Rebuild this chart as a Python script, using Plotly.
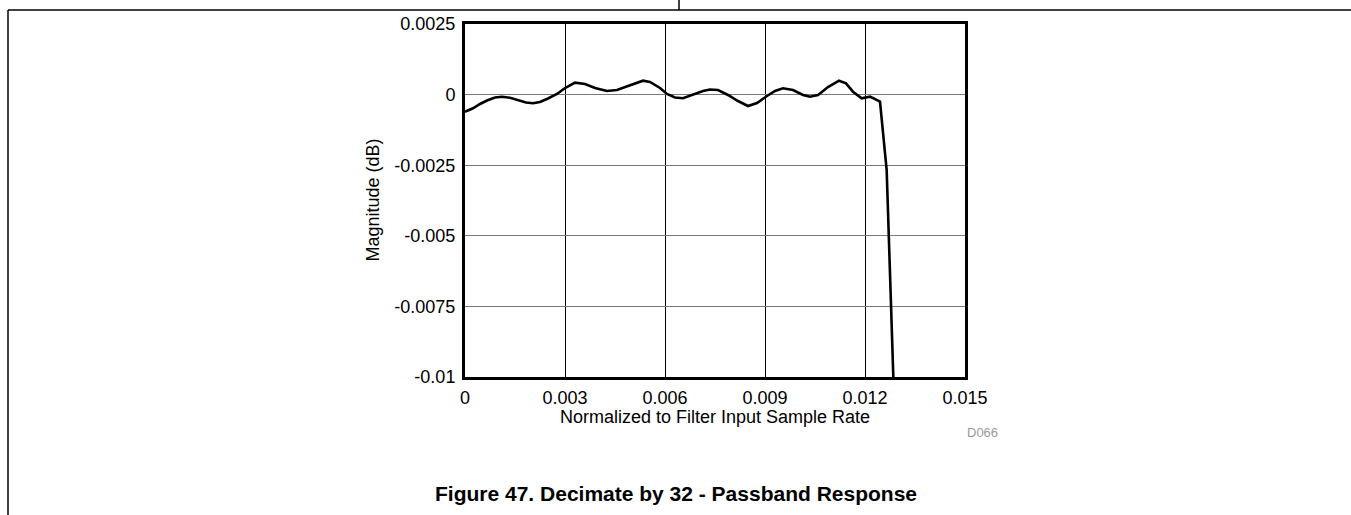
import plotly.graph_objects as go

# Data
freq = [0, 0.00024, 0.00045, 0.00066, 0.0009, 0.00111, 0.00135, 0.00159, 0.00183, 0.00204,
        0.00225, 0.00249, 0.00276, 0.003, 0.0033, 0.0036, 0.0039, 0.00426, 0.00456, 0.00489,
        0.00534, 0.00555, 0.00585, 0.00606, 0.0063, 0.00654, 0.00684, 0.00714, 0.00735, 0.00759,
        0.00789, 0.00819, 0.00849, 0.00876, 0.00906, 0.0093, 0.00954, 0.00984, 0.01014, 0.01035,
        0.01059, 0.01089, 0.01122, 0.01143, 0.01164, 0.0119, 0.01215, 0.01245, 0.01265, 0.01285]
magnitude_db = [-0.000606, -0.000485, -0.000333, -0.000209, -0.000103, -0.000078, -0.000113, -0.000191,
                -0.00028, -0.000308, -0.000262, -0.000138, 0.000021, 0.000234, 0.000421, 0.000375,
                0.000234, 0.000127, 0.000163, 0.000305, 0.000492, 0.000446, 0.000234, 0.000021,
                -0.000103, -0.000131, -0.000014, 0.000127, 0.000181, 0.000163, -0.000014, -0.000227,
                -0.000404, -0.000297, -0.00005, 0.000127, 0.000223, 0.000163, -0.000014, -0.000074,
                -0.000014, 0.000269, 0.000492, 0.0004, 0.000103, -0.000131, -0.000074, -0.000251,
                -0.00267, -0.01]

x_ticks = [0, 0.003, 0.006, 0.009, 0.012, 0.015]
x_tick_labels = ["0", "0.003", "0.006", "0.009", "0.012", "0.015"]
y_ticks = [-0.01, -0.0075, -0.005, -0.0025, 0, 0.0025]
y_tick_labels = ["-0.01", "-0.0075", "-0.005", "-0.0025", "0", "0.0025"]

x_title = "Normalized to Filter Input Sample Rate"
y_title = "Magnitude (dB)"
caption = "Figure 47. Decimate by 32 - Passband Response"
code_label = "D066"

FONT = "Arial, 'Liberation Sans', sans-serif"

fig = go.Figure()
fig.add_trace(go.Scatter(x=freq, y=magnitude_db, mode="lines",
                         line=dict(color="black", width=2.6), showlegend=False,
                         hoverinfo="skip"))

fig.update_layout(
    width=1351, height=515,
    margin=dict(l=465, r=386, t=24, b=138, pad=0),
    paper_bgcolor="white", plot_bgcolor="white",
    font=dict(family=FONT, size=18, color="black"),
    showlegend=False,
)
fig.update_xaxes(range=[0, 0.015], tickvals=x_ticks, ticktext=x_tick_labels,
                 showgrid=True, gridcolor="black", gridwidth=1, zeroline=False,
                 showline=True, linecolor="black", linewidth=3, mirror=True,
                 ticks="", ticklabelstandoff=2, tickfont=dict(size=18, family=FONT))
fig.update_yaxes(range=[-0.01, 0.0025], tickvals=y_ticks, ticktext=y_tick_labels,
                 showgrid=True, gridcolor="#7a7a7a", gridwidth=1, zeroline=False,
                 showline=True, linecolor="black", linewidth=3, mirror=True,
                 ticks="", ticklabelstandoff=3, tickfont=dict(size=18, family=FONT))

# page frame lines
fig.add_shape(type="line", xref="paper", yref="paper", x0=-0.914, x1=1.78, y0=1.0397, y1=1.0397,
              line=dict(color="black", width=1.5))
fig.add_shape(type="line", xref="paper", yref="paper", x0=0.428, x1=0.428, y0=1.0397, y1=1.1,
              line=dict(color="black", width=1.5))
fig.add_shape(type="line", xref="paper", yref="paper", x0=-0.914, x1=-0.914, y0=1.0397, y1=-0.45,
              line=dict(color="black", width=1.5))

fig.add_annotation(text=x_title, xref="paper", yref="paper", x=0.5, y=-0.113,
                   xanchor="center", yanchor="middle", showarrow=False,
                   font=dict(size=18, family=FONT))
fig.add_annotation(text=y_title, xref="paper", yref="paper", x=-0.186, y=0.5,
                   xanchor="center", yanchor="middle", textangle=-90, showarrow=False,
                   font=dict(size=18, family=FONT))
fig.add_annotation(text=code_label, xref="paper", yref="paper", x=1.07, y=-0.156,
                   xanchor="right", yanchor="middle", showarrow=False,
                   font=dict(size=13, family=FONT, color="#9a9a9a"))
fig.add_annotation(text="<b>" + caption + "</b>", xref="paper", yref="paper", x=0.422, y=-0.329,
                   xanchor="center", yanchor="middle", showarrow=False,
                   font=dict(size=21, family=FONT, color="black"))

fig.write_html("out.html", config={"displayModeBar": False},
               post_script="document.body.style.margin='0';")
